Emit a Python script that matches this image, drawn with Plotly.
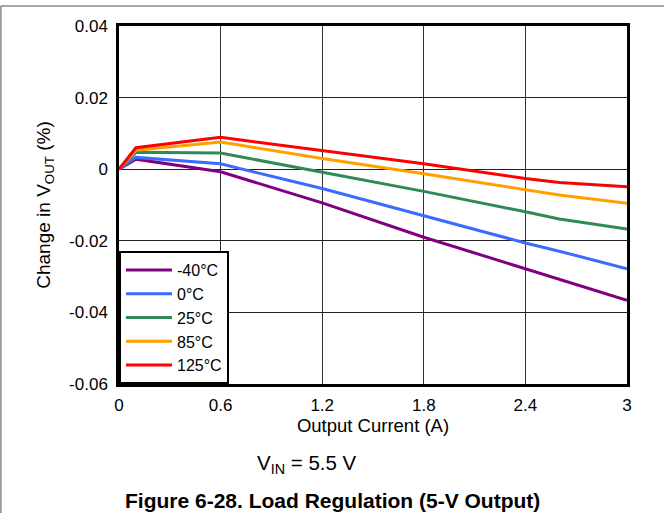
import plotly.graph_objects as go

current = [0, 0.1, 0.6, 1.2, 1.8, 2.4, 2.6, 3.0]
series_names = ["-40°C", "0°C", "25°C", "85°C", "125°C"]
v_m40 = [0, 0.0028, -0.0007, -0.0094, -0.0190, -0.0279, -0.0308, -0.0366]
v_0 = [0, 0.0033, 0.0015, -0.0054, -0.0130, -0.0206, -0.0229, -0.0278]
v_25 = [0, 0.0047, 0.0045, -0.0008, -0.0062, -0.0119, -0.0139, -0.0167]
v_85 = [0, 0.0053, 0.0076, 0.0030, -0.0013, -0.0058, -0.0072, -0.0095]
v_125 = [0, 0.0060, 0.0089, 0.0052, 0.0015, -0.0026, -0.0037, -0.0049]
series_values = [v_m40, v_0, v_25, v_85, v_125]
colors = ["#800080", "#3a6bff", "#2e8b57", "#ffa000", "#ff0000"]

x_ticks = [0, 0.6, 1.2, 1.8, 2.4, 3]
x_tick_labels = ["0", "0.6", "1.2", "1.8", "2.4", "3"]
y_ticks = [0.04, 0.02, 0, -0.02, -0.04, -0.06]
y_tick_labels = ["0.04", "0.02", "0", "-0.02", "-0.04", "-0.06"]

FONT = "Liberation Sans, Arial, sans-serif"

fig = go.Figure()
for name, vals, col in zip(series_names, series_values, colors):
    fig.add_trace(go.Scatter(x=current, y=vals, mode="lines", name=name,
                             line=dict(color=col, width=3)))

fig.update_layout(
    width=664, height=513, autosize=False,
    margin=dict(l=119, r=36.5, t=26, b=129),
    paper_bgcolor="white", plot_bgcolor="white",
    font=dict(family=FONT, size=17, color="black"),
    showlegend=True,
    legend=dict(x=0, y=0, xanchor="left", yanchor="bottom",
                bordercolor="black", borderwidth=2, bgcolor="white",
                font=dict(size=16), itemwidth=46, tracegroupgap=0),
    xaxis=dict(range=[0, 3], tickvals=x_ticks, ticktext=x_tick_labels,
               showgrid=True, gridcolor="#333", gridwidth=1,
               showline=True, linecolor="black", linewidth=2.5, mirror=True,
               zeroline=False, ticks="outside", ticklen=4, tickcolor="white",
               title=dict(text="Output Current (A)", font=dict(size=18.5), standoff=4),
               tickfont=dict(size=17)),
    yaxis=dict(range=[-0.06, 0.04], tickvals=y_ticks, ticktext=y_tick_labels,
               showgrid=True, gridcolor="#222", gridwidth=1,
               showline=True, linecolor="black", linewidth=2.5, mirror=True,
               zeroline=False, ticks="outside", ticklen=5, tickcolor="white",
               title=dict(text="Change in V<sub>OUT</sub> (%)", font=dict(size=19), standoff=14),
               tickfont=dict(size=17)),
    annotations=[
        dict(text="V<sub>IN</sub> = 5.5 V", xref="paper", yref="paper",
             x=0.3707, y=-0.2235, showarrow=False, font=dict(size=20.5),
             xanchor="center", yanchor="middle"),
        dict(text="<b>Figure 6-28. Load Regulation (5-V Output)</b>", xref="paper", yref="paper",
             x=0.4199, y=-0.3268, showarrow=False, font=dict(size=21),
             xanchor="center", yanchor="middle"),
    ],
    shapes=[
        dict(type="line", xref="paper", yref="paper", x0=-0.2325, x1=1.1,
             y0=1.0559, y1=1.0559, line=dict(color="#888", width=1.5)),
        dict(type="line", xref="paper", yref="paper", x0=-0.2325, x1=-0.2325,
             y0=1.0559, y1=-0.45, line=dict(color="#888", width=1.5)),
    ],
)

fig.write_html("out.html", config={"displayModeBar": False})

# remove the default page margin so the figure sits at the window origin
with open("out.html", "r", encoding="utf-8") as f:
    html = f.read()
html = html.replace("<head>", "<head><style>html,body{margin:0;padding:0;overflow:hidden;}</style>", 1)
with open("out.html", "w", encoding="utf-8") as f:
    f.write(html)
